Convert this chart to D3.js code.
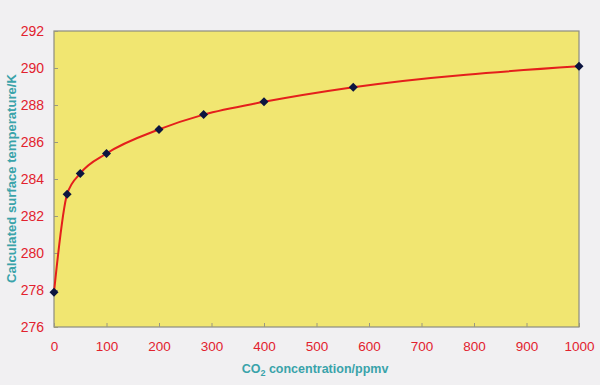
<!DOCTYPE html>
<html>
<head>
<meta charset="utf-8">
<script src="https://cdn.jsdelivr.net/npm/d3@7"></script>
<style>
  body { margin: 0; background: #f1f0f2; }
  svg { display: block; font-family: "Liberation Sans", Arial, sans-serif; }
</style>
</head>
<body>
<svg width="600" height="385"></svg>
<script>
// data
var co2 = [0, 25, 50, 100, 200, 285, 400, 570, 1000];
var temp = [277.88, 283.18, 284.3, 285.38, 286.68, 287.48, 288.17, 288.96, 290.09];
var xTicks = [0, 100, 200, 300, 400, 500, 600, 700, 800, 900, 1000];
var yTicks = [276, 278, 280, 282, 284, 286, 288, 290, 292];

var svg = d3.select("svg"),
    margin = {top: 31, right: 21, bottom: 58, left: 54},
    width = +svg.attr("width") - margin.left - margin.right,
    height = +svg.attr("height") - margin.top - margin.bottom;

var x = d3.scaleLinear().domain([0, 1000]).range([0, width]),
    y = d3.scaleLinear().domain([276, 292]).range([height, 0]);

var g = svg.append("g")
    .attr("transform", "translate(" + margin.left + "," + margin.top + ")");

// plot area
g.append("rect")
    .attr("width", width)
    .attr("height", height)
    .attr("fill", "#f1e671")
    .attr("stroke", "#8d8c80")
    .attr("stroke-width", 1.2);

// x axis, ticks point inward
var xa = g.append("g")
    .attr("transform", "translate(0," + height + ")")
    .call(d3.axisBottom(x).tickValues(xTicks).tickSize(-4).tickPadding(14).tickFormat(d3.format("d")));
xa.select(".domain").remove();
xa.selectAll("line").attr("stroke", "#9a9880");
xa.selectAll("text").attr("fill", "#e2222e").attr("font-size", 13.5).attr("font-family", "Liberation Sans, Arial, sans-serif");

var ya = g.append("g")
    .call(d3.axisLeft(y).tickValues(yTicks).tickSize(-4).tickPadding(10).tickFormat(d3.format("d")));
ya.select(".domain").remove();
ya.selectAll("line").attr("stroke", "#9a9880");
ya.selectAll("text").attr("fill", "#e2222e").attr("font-size", 14).attr("font-family", "Liberation Sans, Arial, sans-serif");

// axis titles
svg.append("text")
    .attr("transform", "translate(16,178.5) rotate(-90)")
    .attr("text-anchor", "middle")
    .attr("fill", "#3aa3aa")
    .attr("font-weight", "bold")
    .attr("font-size", 13.1)
    .text("Calculated surface temperature/K");

var xt = svg.append("text")
    .attr("x", 315)
    .attr("y", 373)
    .attr("text-anchor", "middle")
    .attr("fill", "#3aa3aa")
    .attr("font-weight", "bold")
    .attr("font-size", 12.5);
xt.append("tspan").text("CO");
xt.append("tspan").attr("font-size", 9).attr("dy", 3).text("2");
xt.append("tspan").attr("dy", -3).text(" concentration/ppmv");

var pts = co2.map(function(d, i) { return {c: d, t: temp[i]}; });

// curve
g.append("path")
    .datum(pts)
    .attr("fill", "none")
    .attr("stroke", "#e41f1c")
    .attr("stroke-width", 2)
    .attr("d", d3.line()
        .x(function(d) { return x(d.c); })
        .y(function(d) { return y(d.t); })
        .curve(d3.curveMonotoneX));

// diamond markers
g.selectAll(".pt")
    .data(pts)
    .enter().append("path")
    .attr("class", "pt")
    .attr("transform", function(d) { return "translate(" + x(d.c) + "," + y(d.t) + ")"; })
    .attr("d", "M0,-4.5L4.5,0L0,4.5L-4.5,0Z")
    .attr("fill", "#0c1540");
</script>
</body>
</html>
